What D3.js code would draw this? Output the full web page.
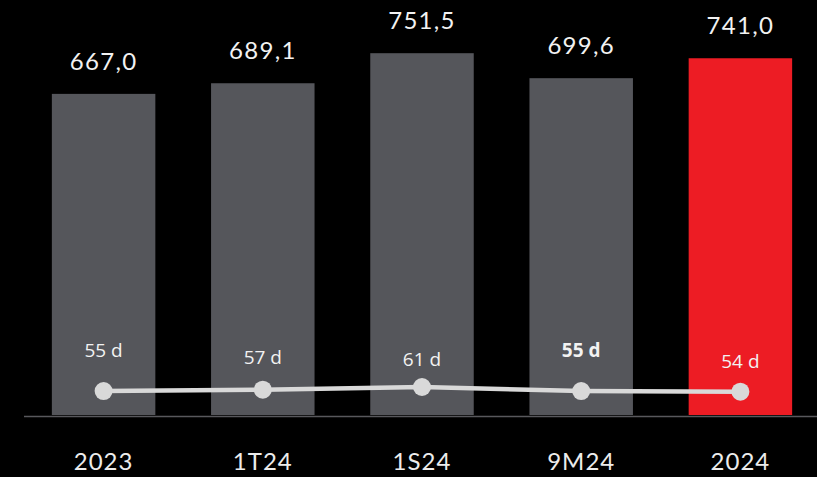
<!DOCTYPE html>
<html>
<head>
<meta charset="utf-8">
<script src="https://cdn.jsdelivr.net/npm/d3@7"></script>
<style>
  html, body { margin: 0; padding: 0; background: #000; }
  svg { display: block; }
</style>
</head>
<body>
<div id="chart_div"></div>
<script>
var categories = ["2023", "1T24", "1S24", "9M24", "2024"];
var amounts = [667.0, 689.1, 751.5, 699.6, 741.0];
var days = [55, 57, 61, 55, 54];
var day_labels = ["55 d", "57 d", "61 d", "55 d", "54 d"];

var chart_width = 817;
var chart_height = 477;
var base_y = 415;

var grey_bar = "#55565b";
var red_bar = "#ed1c24";

// label nudges
var day_label_dy = [-34, -26, -21, -34, -24];

function fmt(v) {
    return v.toFixed(1).replace(".", ",");
}

var svg = d3.select("#chart_div")
    .append("svg")
    .attr("width", chart_width)
    .attr("height", chart_height);

svg.append("rect")
    .attr("width", chart_width)
    .attr("height", chart_height)
    .attr("fill", "#000");

var x = d3.scaleBand()
    .domain(categories)
    .range([24, 820])
    .paddingInner(0.35)
    .paddingOuter(0.175);

var y = d3.scaleLinear()
    .domain([0, 862])
    .range([base_y, 0]);

var y_days = d3.scaleLinear()
    .domain([54, 61])
    .range([391.7, 387]);

// bars
svg.append("g")
    .selectAll("rect")
    .data(amounts)
    .enter()
    .append("rect")
    .attr("x", function(d, i) { return x(categories[i]); })
    .attr("y", function(d) { return y(d); })
    .attr("width", x.bandwidth())
    .attr("height", function(d) { return base_y - y(d); })
    .attr("fill", function(d, i) { return i == categories.length - 1 ? red_bar : grey_bar; });

// baseline
svg.append("line")
    .attr("x1", 24)
    .attr("x2", chart_width)
    .attr("y1", base_y + 1.5)
    .attr("y2", base_y + 1.5)
    .attr("stroke", "#58585c")
    .attr("stroke-width", 1.5);

// value labels
svg.append("g")
    .selectAll("text")
    .data(amounts)
    .enter()
    .append("text")
    .attr("x", function(d, i) { return x(categories[i]) + x.bandwidth() / 2; })
    .attr("y", function(d) { return y(d) - 24; })
    .attr("text-anchor", "middle")
    .attr("font-family", "Lato, 'Open Sans', sans-serif")
    .attr("font-size", 24)
    .attr("letter-spacing", 1.3)
    .attr("fill", "#f2f2f2")
    .text(function(d) { return fmt(d); });

// days line
var cx = function(d, i) { return x(categories[i]) + x.bandwidth() / 2; };
var line = d3.line()
    .x(function(d, i) { return cx(d, i); })
    .y(function(d) { return y_days(d); });

svg.append("path")
    .datum(days)
    .attr("d", line)
    .attr("fill", "none")
    .attr("stroke", "#d9d9d9")
    .attr("stroke-width", 4.5);

svg.append("g")
    .selectAll("circle")
    .data(days)
    .enter()
    .append("circle")
    .attr("cx", cx)
    .attr("cy", function(d) { return y_days(d); })
    .attr("r", 9)
    .attr("fill", "#d9d9d9");

svg.append("g")
    .selectAll("text")
    .data(days)
    .enter()
    .append("text")
    .attr("x", cx)
    .attr("y", function(d, i) { return y_days(d) + day_label_dy[i]; })
    .attr("text-anchor", "middle")
    .attr("font-family", "'Open Sans', sans-serif")
    .attr("font-size", 19)
    .attr("font-weight", function(d, i) { return i == 3 ? "bold" : "normal"; })
    .attr("fill", "#f2f2f2")
    .text(function(d, i) { return day_labels[i]; });

// category axis
var x_axis = svg.append("g")
    .attr("transform", "translate(0," + base_y + ")")
    .call(d3.axisBottom(x).tickSize(0).tickPadding(0));
x_axis.select(".domain").remove();
x_axis.selectAll("text")
    .attr("dy", null)
    .attr("y", 55)
    .attr("font-family", "Lato, 'Open Sans', sans-serif")
    .attr("font-size", 24)
    .attr("letter-spacing", 1)
    .attr("fill", "#ececec");
</script>
</body>
</html>
